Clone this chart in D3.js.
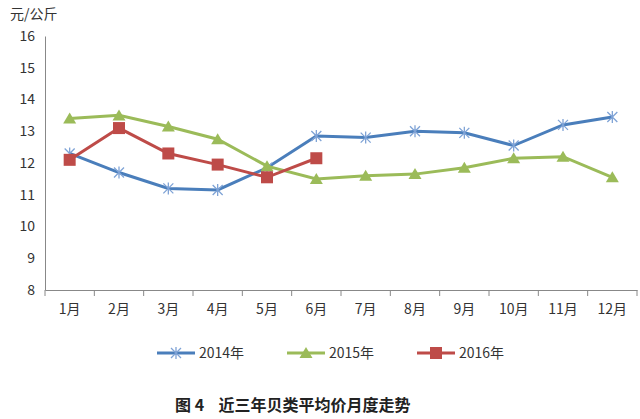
<!DOCTYPE html>
<html><head><meta charset="utf-8">
<script src="https://cdn.jsdelivr.net/npm/d3@7"></script>
<style>body{margin:0;background:#fff}text{font-family:"Noto Sans CJK SC","Noto Sans",sans-serif}</style>
</head><body>
<script>
var months = ["1月","2月","3月","4月","5月","6月","7月","8月","9月","10月","11月","12月"];
var s2014 = [12.3,11.7,11.2,11.15,11.85,12.85,12.8,13.0,12.95,12.55,13.2,13.45];
var s2015 = [13.4,13.5,13.15,12.75,11.9,11.5,11.6,11.65,11.85,12.15,12.2,11.55];
var s2016 = [12.1,13.1,12.3,11.95,11.55,12.15];
var yTicks = [8,9,10,11,12,13,14,15,16];

var W = 640, H = 419;
var svg = d3.select("body").append("svg").attr("width", W).attr("height", H);

var x = d3.scaleBand().domain(months).range([45, 637]);
var y = d3.scaleLinear().domain([8, 16]).range([290, 36]);
var cx = function (d, i) { return x(months[i]) + x.bandwidth() / 2; };

svg.append("g").attr("transform", "translate(45,0)")
  .call(d3.axisLeft(y).tickValues(yTicks).tickSize(0).tickPadding(10))
  .call(function (g) { g.select(".domain").attr("stroke", "#888"); g.selectAll("text").attr("font-size", 14).attr("fill", "#333"); });

svg.append("g").attr("transform", "translate(0,290)")
  .call(d3.axisBottom(x).tickSize(0).tickPadding(14))
  .call(function (g) { g.select(".domain").attr("stroke", "#888"); g.selectAll("text").attr("font-size", 14).attr("fill", "#333"); });
svg.append("g").selectAll("line").data(months.concat([""])).enter().append("line")
  .attr("x1", function (d, i) { return 45 + i * x.step(); })
  .attr("x2", function (d, i) { return 45 + i * x.step(); })
  .attr("y1", 290).attr("y2", 296).attr("stroke", "#888");

svg.append("text").attr("x", 10).attr("y", 19).attr("font-size", 14).attr("fill", "#333").text("元/公斤");

var line = d3.line().x(cx).y(function (d) { return y(d); });
var series = [
  { name: "2014年", data: s2014, color: "#4a7ebb", mark: "star" },
  { name: "2015年", data: s2015, color: "#9bbb59", mark: "tri" },
  { name: "2016年", data: s2016, color: "#be4b48", mark: "sq" }
];

function drawMark(g, m, color) {
  if (m === "sq") g.append("rect").attr("x", -6).attr("y", -6).attr("width", 12).attr("height", 12).attr("fill", color);
  else if (m === "tri") g.append("path").attr("d", "M0,-6L6.5,5L-6.5,5Z").attr("fill", color);
  else g.append("path").attr("d", "M-5,-5L5,5M-5,5L5,-5M0,-6L0,6").attr("stroke", "#7fa3d6").attr("stroke-width", 1.3);
}

series.forEach(function (s) {
  svg.append("path").datum(s.data).attr("d", line).attr("fill", "none").attr("stroke", s.color).attr("stroke-width", 3);
  s.data.forEach(function (d, i) {
    drawMark(svg.append("g").attr("transform", "translate(" + cx(d, i) + "," + y(d) + ")"), s.mark, s.color);
  });
});

var lg = svg.append("g").attr("transform", "translate(157,353)");
series.forEach(function (s, i) {
  var g = lg.append("g").attr("transform", "translate(" + i * 130 + ",0)");
  g.append("line").attr("x1", 0).attr("x2", 38).attr("stroke", s.color).attr("stroke-width", 3);
  drawMark(g.append("g").attr("transform", "translate(19,0)"), s.mark, s.color);
  g.append("text").attr("x", 42).attr("y", 5).attr("font-size", 14).attr("fill", "#333").text(s.name);
});

svg.append("text").attr("x", 175).attr("y", 411).attr("font-size", 16).attr("font-weight", "bold").attr("fill", "#222")
  .style("white-space", "pre").text("图 4    近三年贝类平均价月度走势");
</script>
</body></html>
